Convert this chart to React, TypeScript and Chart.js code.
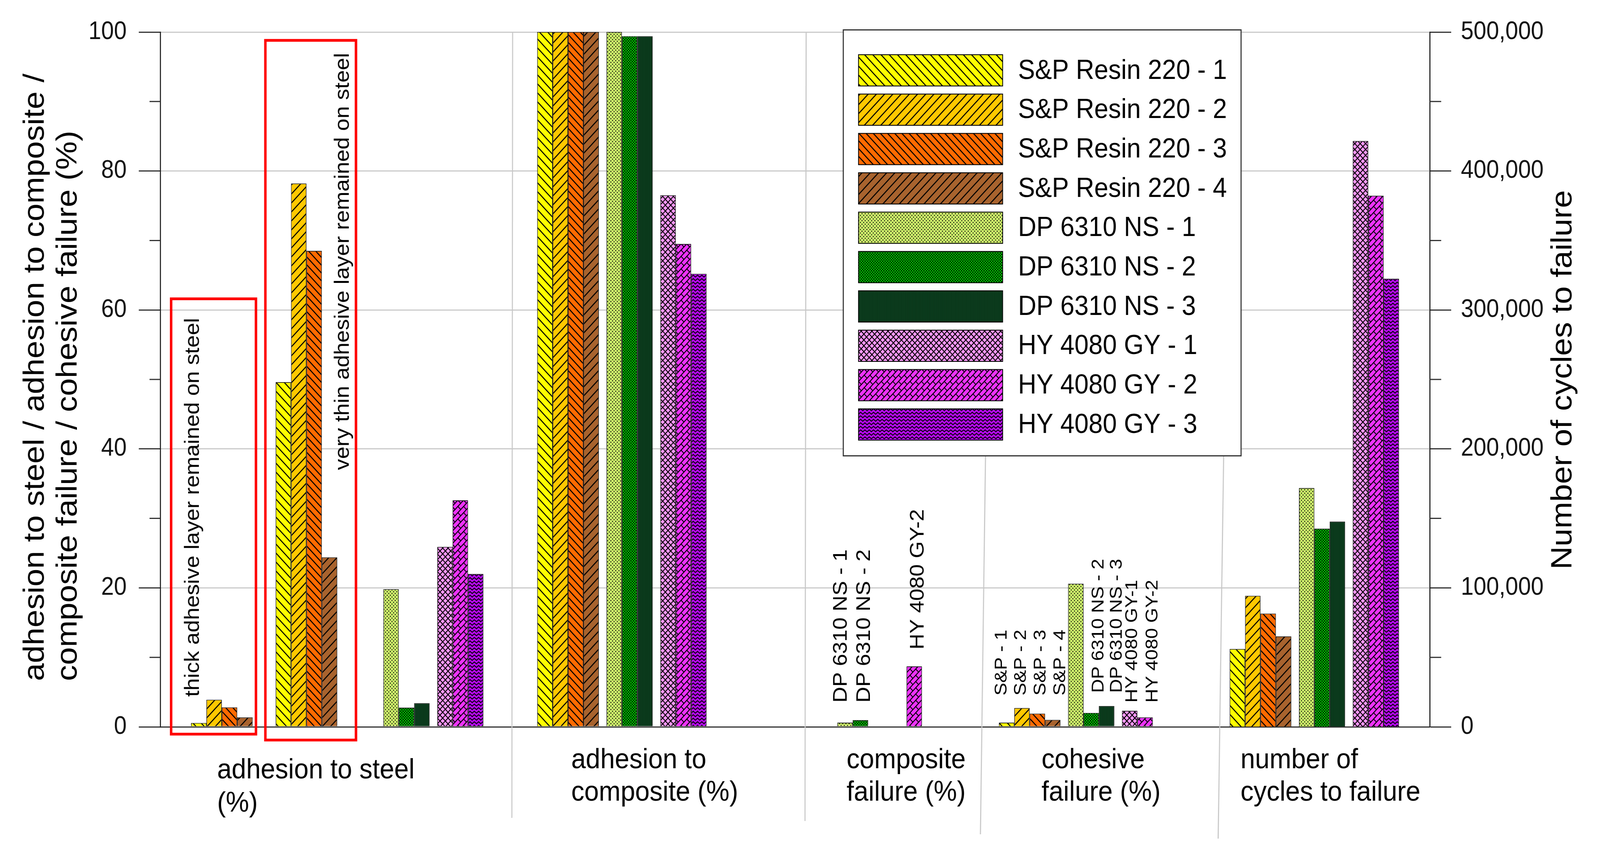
import React, { useEffect, useRef } from 'react';
import { Chart, registerables } from 'chart.js';

Chart.register(...registerables);

const W = 4473;
const H = 2188;
const FONT = "'Liberation Sans', Arial, Helvetica, sans-serif";

// ---------------- data ----------------
const seriesLabels = [
  'S&P Resin 220 - 1', 'S&P Resin 220 - 2', 'S&P Resin 220 - 3', 'S&P Resin 220 - 4',
  'DP 6310 NS - 1', 'DP 6310 NS - 2', 'DP 6310 NS - 3',
  'HY 4080 GY - 1', 'HY 4080 GY - 2', 'HY 4080 GY - 3',
];
const categoryLabels = [
  ['adhesion to steel', '(%)'],
  ['adhesion to', 'composite (%)'],
  ['composite', 'failure (%)'],
  ['cohesive', 'failure (%)'],
  ['number of', 'cycles to failure'],
];
// S&P Resin 220 - 1..4, thick adhesive layer remained on steel
const steelThickLayer = [0.55, 3.9, 2.8, 1.35];
const adhesionToSteel = [49.6, 78.2, 68.5, 24.4, 19.8, 2.75, 3.4, 25.9, 32.6, 22.0];
const adhesionToComposite = [100, 100, 100, 100, 100, 99.4, 99.4, 76.5, 69.5, 65.2];
const compositeFailure = [0, 0, 0, 0, 0.6, 0.95, 0, 0, 8.7, 0];
const cohesiveFailure = [0.6, 2.7, 1.9, 1.0, 20.6, 2.0, 3.0, 2.3, 1.35, 0];
const cyclesToFailure = [56000, 94300, 81500, 65100, 171800, 142600, 147700, 421600, 382200, 322500];

const leftTitle = ['adhesion to steel / adhesion to composite /', 'composite failure / cohesive failure (%)'];
const rightTitle = 'Number of cycles to failure';
const noteThick = 'thick adhesive layer remained on steel';
const noteThin = 'very thin adhesive layer remained on steel';
const compositeNotes = ['DP 6310 NS - 1', 'DP 6310 NS - 2', 'HY 4080 GY-2'];
const cohesiveNotes = ['S&P - 1', 'S&P - 2', 'S&P - 3', 'S&P - 4', 'DP 6310 NS - 2', 'DP 6310 NS - 3', 'HY 4080 GY-1', 'HY 4080 GY-2'];

// ---------------- layout (slot positions on the category axis) ----------------
const SLOTS = 166;
const THICK_START = 4;
const CLUSTER_START = [20, 49, 79, 109, 139];
const SP_SHIFT = [-5, 0, 0, 0, 0];
function slotOffset(s: number) {
  return s < 4 ? 1 + 2 * s : s < 7 ? 10 + 2 * (s - 4) : 17 + 2 * (s - 7);
}

// ---------------- patterns ----------------
function tile(ctx: CanvasRenderingContext2D, w: number, h: number, bg: string, draw: (c: CanvasRenderingContext2D) => void) {
  const cv = document.createElement('canvas');
  cv.width = w;
  cv.height = h;
  const c = cv.getContext('2d')!;
  c.fillStyle = bg;
  c.fillRect(0, 0, w, h);
  c.strokeStyle = '#000';
  c.fillStyle = '#000';
  c.lineCap = 'butt';
  draw(c);
  return ctx.createPattern(cv, 'repeat')!;
}
function hatchLines(c: CanvasRenderingContext2D, d: number, dir: 'back' | 'fwd', lw: number) {
  c.lineWidth = lw;
  c.beginPath();
  for (let i = -2; i <= 2; i++) {
    if (dir === 'back') {
      c.moveTo(-d, -d + i * d);
      c.lineTo(2 * d, 2 * d + i * d);
    } else {
      c.moveTo(-d, 2 * d + i * d);
      c.lineTo(2 * d, -d + i * d);
    }
  }
  c.stroke();
}
function makePatterns(ctx: CanvasRenderingContext2D) {
  return [
    tile(ctx, 23, 23, '#FFFF00', (c) => hatchLines(c, 23, 'back', 2.7)),
    tile(ctx, 23, 23, '#FFC800', (c) => hatchLines(c, 23, 'fwd', 2.7)),
    tile(ctx, 20, 20, '#FF6A00', (c) => hatchLines(c, 20, 'back', 2.7)),
    tile(ctx, 23, 23, '#A8632E', (c) => hatchLines(c, 23, 'fwd', 2.7)),
    tile(ctx, 9, 9, '#CDF06A', (c) => {
      c.fillRect(1, 1, 2.6, 2.6);
      c.fillRect(5.5, 5.5, 2.6, 2.6);
    }),
    tile(ctx, 7, 7, '#00F000', (c) => {
      hatchLines(c, 7, 'back', 1.5);
      hatchLines(c, 7, 'fwd', 1.5);
    }),
    tile(ctx, 3, 3, '#0E4A24', (c) => {
      c.fillRect(0, 0, 1.4, 1.4);
    }),
    tile(ctx, 15, 15, '#FF99FF', (c) => {
      hatchLines(c, 15, 'back', 2.4);
      hatchLines(c, 15, 'fwd', 2.4);
    }),
    tile(ctx, 32, 32, '#EE33FF', (c) => {
      c.lineWidth = 2.4;
      c.beginPath();
      for (let a = -64; a <= 96; a += 16) {
        c.moveTo(a + 40, -40);
        c.lineTo(a - 72, 72);
      }
      const segs = [[0, 0], [16, -16], [0, 16], [16, 0]];
      for (const ox of [-32, 0, 32]) {
        for (const oy of [-32, 0, 32]) {
          for (const [sx, sy] of segs) {
            c.moveTo(sx + ox, sy + oy);
            c.lineTo(sx + ox + 8, sy + oy + 8);
          }
        }
      }
      c.stroke();
    }),
    tile(ctx, 12, 9, '#B50AEE', (c) => {
      c.lineWidth = 2.2;
      c.beginPath();
      for (const oy of [-9, 0, 9]) {
        c.moveTo(-6, 2 + oy);
        c.lineTo(0, 7 + oy);
        c.lineTo(6, 2 + oy);
        c.lineTo(12, 7 + oy);
        c.lineTo(18, 2 + oy);
      }
      c.stroke();
    }),
  ];
}

// ---------------- overlay drawing ----------------
function rotText(ctx: CanvasRenderingContext2D, text: string, x: number, y: number, size: number, align: CanvasTextAlign = 'left') {
  ctx.save();
  ctx.translate(x, y);
  ctx.rotate(-Math.PI / 2);
  ctx.font = `${size}px ${FONT}`;
  ctx.textAlign = align;
  ctx.textBaseline = 'alphabetic';
  ctx.fillStyle = '#000';
  ctx.fillText(text, 0, 0);
  ctx.restore();
}

const separators = [
  { top: 45.8, bottom: 45.7, below: 233 },
  { top: 83.95, bottom: 83.8, below: 241 },
  { top: 108.0, bottom: 106.6, below: 275 },
  { top: 139.0, bottom: 137.5, below: 286 },
];
const redBoxes = [
  { x0: 1.25, x1: 12.6, y0: -1.25, y1: 61.8 },
  { x0: 13.5, x1: 25.6, y0: -2.1, y1: 99.0 },
];
const compositeNotePos = [[89.21, 3.49], [92.24, 3.49], [99.21, 11.14]];
const cohesiveNotePos = [[110.0, 4.5], [112.51, 4.5], [115.06, 4.5], [117.62, 4.5], [122.59, 4.89], [124.96, 4.89], [126.96, 3.49], [129.61, 3.49]];
const categoryLabelPos = [
  { x: 7.39, dy: [132, 217] },
  { x: 53.42, dy: [106, 189] },
  { x: 89.21, dy: [106, 189] },
  { x: 114.55, dy: [106, 189] },
  { x: 140.4, dy: [106, 189] },
];

const overlayPlugin = {
  id: 'overlay',
  beforeDatasetsDraw(chart: any) {
    const { ctx, chartArea } = chart;
    const x = chart.scales.x;
    ctx.save();
    ctx.strokeStyle = '#C8C8C8';
    ctx.lineWidth = 3;
    for (const s of separators) {
      ctx.beginPath();
      ctx.moveTo(x.getPixelForValue(s.top), chartArea.top);
      ctx.lineTo(x.getPixelForValue(s.bottom), chartArea.bottom + s.below);
      ctx.stroke();
    }
    ctx.restore();
  },
  afterDraw(chart: any) {
    const { ctx, chartArea } = chart;
    const x = chart.scales.x;
    const y = chart.scales.y;
    const y1 = chart.scales.y1;
    ctx.save();
    // minor ticks
    ctx.strokeStyle = '#333';
    ctx.lineWidth = 3;
    ctx.beginPath();
    for (let v = 10; v < 100; v += 20) {
      const py = y.getPixelForValue(v);
      ctx.moveTo(chartArea.left - 30, py);
      ctx.lineTo(chartArea.left, py);
    }
    for (let v = 50000; v < 500000; v += 100000) {
      const py = y1.getPixelForValue(v);
      ctx.moveTo(chartArea.right, py);
      ctx.lineTo(chartArea.right + 32, py);
    }
    ctx.stroke();

    // red boxes
    ctx.strokeStyle = '#FF0000';
    ctx.lineWidth = 7;
    for (const b of redBoxes) {
      const l = x.getPixelForValue(b.x0) + 3.5;
      const r = x.getPixelForValue(b.x1) - 3.5;
      const t = y.getPixelForValue(b.y1) + 3.5;
      const bt = y.getPixelForValue(b.y0) - 3.5;
      ctx.strokeRect(l, t, r - l, bt - t);
    }

    // notes
    rotText(ctx, noteThick, x.getPixelForValue(5.02), y.getPixelForValue(4.33), 57);
    rotText(ctx, noteThin, x.getPixelForValue(24.5), y.getPixelForValue(36.95), 57);
    compositeNotes.forEach((t, i) => {
      const [xi, yv] = compositeNotePos[i];
      rotText(ctx, t, x.getPixelForValue(xi), y.getPixelForValue(yv), 56);
    });
    cohesiveNotes.forEach((t, i) => {
      const [xi, yv] = cohesiveNotePos[i];
      rotText(ctx, t, x.getPixelForValue(xi), y.getPixelForValue(yv), 49);
    });

    // category labels
    ctx.font = `73px ${FONT}`;
    ctx.fillStyle = '#000';
    ctx.textAlign = 'left';
    ctx.textBaseline = 'alphabetic';
    categoryLabels.forEach((lines, i) => {
      const p = categoryLabelPos[i];
      const px = x.getPixelForValue(p.x);
      lines.forEach((ln, j) => ctx.fillText(ln, px, chartArea.bottom + p.dy[j]));
    });

    // axis titles
    rotText(ctx, leftTitle[0], 122, y.getPixelForValue(6.6), 82);
    rotText(ctx, leftTitle[1], 214, y.getPixelForValue(6.6), 82);
    rotText(ctx, rightTitle, chartArea.right + 396, (chartArea.top + chartArea.bottom) / 2 + 1, 82, 'center');

    // legend
    const lx = 2356, ly = 75, lw = 1115, lh = 1093;
    ctx.fillStyle = '#FFFFFF';
    ctx.fillRect(lx, ly, lw, lh);
    ctx.strokeStyle = '#333';
    ctx.lineWidth = 3;
    ctx.strokeRect(lx + 1.5, ly + 1.5, lw - 3, lh - 3);
    const ds = chart.data.datasets.slice(0, 10);
    ds.forEach((d: any, i: number) => {
      const top = 140 + i * 100.7;
      ctx.fillStyle = d.backgroundColor;
      ctx.fillRect(2400, top, 403, 80);
      ctx.strokeStyle = '#000';
      ctx.lineWidth = 2.2;
      ctx.strokeRect(2400, top, 403, 80);
      ctx.fillStyle = '#000';
      ctx.font = `71px ${FONT}`;
      ctx.textAlign = 'left';
      ctx.textBaseline = 'middle';
      ctx.fillText(d.label, 2846, top + 42);
    });
    ctx.restore();
  },
};

export default function App() {
  const ref = useRef<HTMLCanvasElement>(null);
  useEffect(() => {
    const canvas = ref.current!;
    const ctx = canvas.getContext('2d')!;
    const patterns = makePatterns(ctx);
    const labels = Array.from({ length: SLOTS }, (_, i) => String(i));
    const pctGroups = [adhesionToSteel, adhesionToComposite, compositeFailure, cohesiveFailure];

    const pctSets = seriesLabels.map((label, s) => {
      const data: (number | null)[] = new Array(SLOTS).fill(null);
      if (s < 4) data[THICK_START + slotOffset(s)] = steelThickLayer[s];
      pctGroups.forEach((g, gi) => {
        data[CLUSTER_START[gi] + (s < 4 ? SP_SHIFT[gi] : 0) + slotOffset(s)] = g[s];
      });
      return { label, data, yAxisID: 'y', backgroundColor: patterns[s], borderColor: '#000', borderWidth: 1.6 };
    });
    const cycleSets = seriesLabels.map((label, s) => {
      const data: (number | null)[] = new Array(SLOTS).fill(null);
      data[CLUSTER_START[4] + slotOffset(s)] = cyclesToFailure[s];
      return { label, data, yAxisID: 'y1', backgroundColor: patterns[s], borderColor: '#000', borderWidth: 1.6 };
    });

    Chart.defaults.font.family = FONT;
    const chart = new Chart(canvas, {
      type: 'bar',
      data: { labels, datasets: [...pctSets, ...cycleSets] as any },
      plugins: [overlayPlugin],
      options: {
        responsive: false,
        devicePixelRatio: 1,
        animation: false,
        datasets: { bar: { grouped: false, categoryPercentage: 1, barPercentage: 2 } } as any,
        layout: { padding: { top: 82, left: 0, right: 0, bottom: 0 } },
        plugins: { legend: { display: false }, tooltip: { enabled: false }, title: { display: false } },
        scales: {
          x: {
            type: 'category',
            offset: false,
            grid: { display: false },
            ticks: { display: false },
            border: { display: true, color: '#333', width: 3 },
            afterFit: (s: any) => { s.height = 328; },
          },
          y: {
            position: 'left',
            min: 0,
            max: 100,
            ticks: { stepSize: 20, font: { size: 64, family: FONT }, color: '#111', padding: 34 },
            grid: {
              color: (c: any) => (c.tick && c.tick.value === 0 ? 'rgba(0,0,0,0)' : '#CBCBCB'),
              lineWidth: 3,
              tickColor: '#333',
              tickLength: 60,
              tickWidth: 3,
            },
            border: { display: true, color: '#222', width: 3 },
            afterFit: (s: any) => { s.width = 448; },
          },
          y1: {
            position: 'right',
            min: 0,
            max: 500000,
            ticks: {
              stepSize: 100000,
              font: { size: 64, family: FONT },
              color: '#111',
              padding: 27,
              callback: (v: any) => Number(v).toLocaleString('en-US'),
            },
            grid: { drawOnChartArea: false, tickColor: '#333', tickLength: 60, tickWidth: 3 },
            border: { display: true, color: '#222', width: 3 },
            afterFit: (s: any) => { s.width = 476; },
          },
        },
      } as any,
    });
    return () => chart.destroy();
  }, []);
  return (
    <div style={{ position: 'absolute', left: 0, top: 0, width: '100vw', height: '100vh', overflow: 'hidden', background: '#fff' }}>
      <canvas ref={ref} width={W} height={H} style={{ display: 'block', width: '100vw', height: '100vh' }} />
    </div>
  );
}
